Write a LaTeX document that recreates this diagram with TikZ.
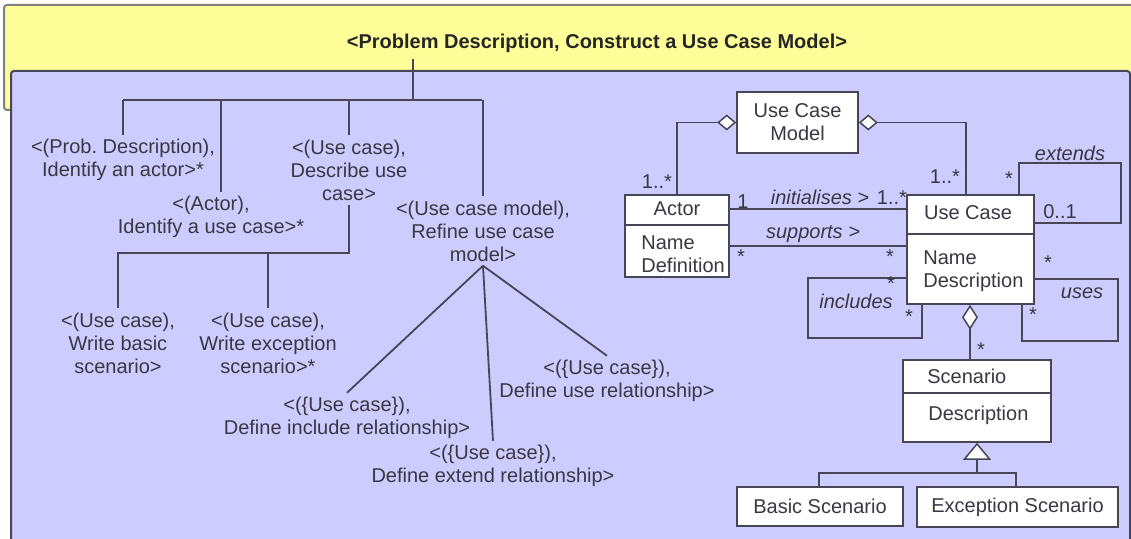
\documentclass[tikz,border=0pt]{standalone}
\usepackage{fontspec}
\setmainfont{Liberation Sans}
\usetikzlibrary{arrows.meta, calc}
\definecolor{bandyellow}{RGB}{255,255,153}
\definecolor{panelblue} {RGB}{204,204,255}
\definecolor{linegray}  {RGB}{70,70,86}
\definecolor{textgray}  {RGB}{56,56,66}

\newcommand{\labelfont}{\fontsize{10}{11.5}\selectfont}

\tikzset{
	task/.style={align=center, text=textgray, font=\labelfont, inner sep=2pt},
	tree/.style={draw=linegray, line width=0.9pt},
	umlbox/.style={draw=linegray, fill=white, line width=0.8pt, inner sep=0pt, text=textgray, font=\labelfont},
	umltext/.style={text=textgray, font=\labelfont, inner sep=0pt},
	mult/.style={text=textgray, font=\labelfont, inner sep=0pt},
	role/.style={text=textgray, font=\labelfont\itshape, inner sep=0pt},
	link/.style={draw=linegray, line width=0.75pt},
	agg/.style={link, {Diamond[length=#1, width=8pt, fill=white]}-},
	agg/.default=9.5pt,
	gen/.style={link, -{Triangle[length=8.5pt, width=14pt, fill=white]}},
}

\begin{document}
\frenchspacing
\begin{tikzpicture}[x=0.5pt, y=-0.5pt]
	\useasboundingbox (0,0) rectangle (1131,539);
	\clip (0,0) rectangle (1131,539);
	% frames
	\draw[draw=gray, fill=bandyellow, line width=1pt, rounded corners=1.5pt] (4,5) rectangle (1145,110);
	\draw[draw=linegray, fill=panelblue, line width=1pt, rounded corners=1.5pt] (11,71) rectangle (1130,560);
	\node[text=black!85, font=\labelfont\bfseries] (goal) at (597,43) {<Problem Description, Construct a Use Case Model>};

	% task tree
	\coordinate (bar) at (413,100);
	\draw[tree] (413,0 |- goal.south) -- (bar);
	\draw[tree] (123,100) -- (482,100);
	\node[task] (findactor) at (123,160) {<(Prob. Description),\\Identify an actor>*};
	\node[task] (findcase) at (211,217) {<(Actor),\\Identify a use case>*};
	\node[task] (describe) at (349,170) {<(Use case),\\Describe use\\case>};
	\node[task] (refine) at (483,231) {<(Use case model),\\Refine use case\\model>};
	\node[task] (basicsc) at (118,343) {<(Use case),\\Write basic\\scenario>};
	\node[task] (excsc) at (268,343) {<(Use case),\\Write exception\\scenario>*};
	\node[task] (include) at (347,418) {<(\{Use case\}),\\Define include relationship>};
	\node[task] (extend) at (493,466) {<(\{Use case\}),\\Define extend relationship>};
	\node[task] (userel) at (607,381) {<(\{Use case\}),\\Define use relationship>};
	\draw[tree] (findactor.north |- bar) -- (findactor.north);
	\draw[tree] (221,0 |- bar) -- (221,0 |- findcase.north);
	\draw[tree] (describe.north |- bar) -- (describe.north);
	\draw[tree] (refine.north |- bar) -- (refine.north);
	\draw[tree] (describe.south) |- (basicsc.north |- 0,253) -- (basicsc.north);
	\draw[tree] (excsc.north |- 0,253) -- (excsc.north);
	\draw[tree] (refine.south) -- (include.north);
	\draw[tree] (refine.south) -- (extend.north);
	\draw[tree] (refine.south) -- (userel.north);

	% use case model classes
	\node[umlbox, minimum width=60.5pt, minimum height=30.5pt, align=center] (model) at (797.5,122.5) {Use Case\\Model};
	\node[umlbox, minimum width=52pt, minimum height=41pt] (actor) at (677,236) {};
	\draw[link] (actor.west |- 0,225) -- (actor.east |- 0,225);
	\node[umltext] (actorname) at (677,209) {Actor};
	\node[umltext, align=left, anchor=west] (actorattr) at (641,254) {Name\\Definition};
	\node[umlbox, minimum width=63.5pt, minimum height=54.5pt] (usecase) at (970.5,249.5) {};
	\draw[link] (usecase.west |- 0,234) -- (usecase.east |- 0,234);
	\node[umltext] (casename) at (968,213) {Use Case};
	\node[umltext, align=left, anchor=west] (caseattr) at (923,271.5) {Name\\Description};
	\node[umlbox, minimum width=74pt, minimum height=41pt] (scenario) at (977,401) {};
	\draw[link] (scenario.west |- 0,393) -- (scenario.east |- 0,393);
	\node[umltext, anchor=west] (scenname) at (927,376) {Scenario};
	\node[umltext, anchor=west] (scenattr) at (928,415) {Description};
	\node[umlbox, minimum width=83pt, minimum height=19.5pt] (basicbox) at (820,506.5) {Basic Scenario};
	\node[umlbox, minimum width=100.5pt, minimum height=20pt] (excbox) at (1017.5,507) {Exception Scenario};

	% aggregations
	\draw[agg] (model.west) -| (actor.north);
	\draw[agg] (model.east) -| (966,0 |- usecase.north);
	\node[mult] at (657,182) {1..*};
	\node[mult] at (945,177) {1..*};
	\draw[agg=12.5pt] (970,0 |- usecase.south) -- (970,0 |- scenario.north);
	\node[mult] at (981,350) {*};

	% associations
	\draw[link] (actor.east |- 0,209) -- (usecase.west |- 0,209);
	\node[role] at (820,197) {initialises >};
	\node[mult] at (743,202) {1};
	\node[mult] at (892,198) {1..*};
	\draw[link] (actor.east |- 0,246) -- (usecase.west |- 0,246);
	\node[role] at (813,234) {supports >};
	\node[mult] at (741,257) {*};
	\node[mult] at (890,257) {*};

	% self loops
	\draw[link] (1019,0 |- usecase.north) |- (1121,163) |- (usecase.east |- 0,223);
	\node[role] at (1070,153) {extends};
	\node[mult] at (1009,179) {*};
	\node[mult] at (1060,212) {0..1};
	\draw[link] (usecase.east |- 0,279) -| (1118,341) -| (1022,0 |- usecase.south);
	\node[role] at (1082,293) {uses};
	\node[mult] at (1048,263) {*};
	\node[mult] at (1033,315) {*};
	\draw[link] (usecase.west |- 0,278) -| (808,338) -| (922,0 |- usecase.south);
	\node[role] at (856,301) {includes};
	\node[mult] at (891,284) {*};
	\node[mult] at (909,317) {*};

	% generalisation
	\coordinate (genjoin) at (977,473);
	\draw[gen] (genjoin) -- (scenario.south);
	\draw[link] (basicbox.north -| 819,0) |- (genjoin) -| (1016,0 |- excbox.north);
\end{tikzpicture}
\end{document}
